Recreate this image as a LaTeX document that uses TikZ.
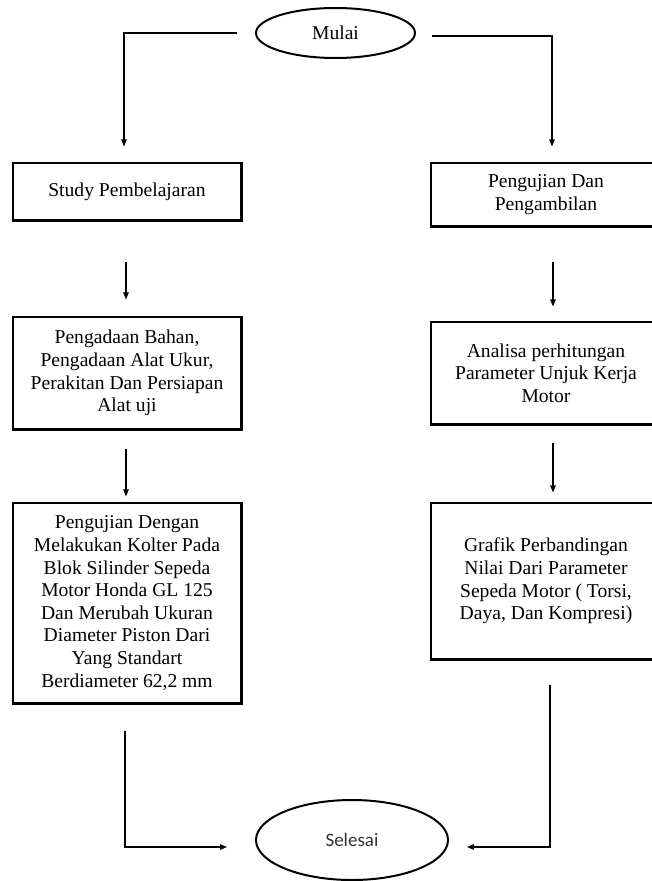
\documentclass[tikz,border=0pt]{standalone}
\usepackage{fontspec}
\setmainfont{Liberation Serif}
\newfontfamily\calib{Carlito}
\usetikzlibrary{shapes.geometric,arrows.meta}
\tikzset{
  boxnode/.style={draw, line width=1.1pt, inner sep=0pt, align=center,
    font=\fontsize{19.6}{22.6}\selectfont},
  ovalnode/.style={draw, ellipse, line width=2pt, inner sep=0pt},
  shadowline/.style={line width=2.6pt},
  conn/.style={line width=1.2pt, -{Triangle[length=7pt,width=5.5pt]}},
}
\begin{document}
\begin{tikzpicture}[x=1pt,y=-1pt]
\useasboundingbox (0,0) rectangle (652,881);
\clip (0,0) rectangle (652,881);
\fill[white] (0,0) rectangle (652,881);

\node[ovalnode, minimum width=159pt, minimum height=50pt,
  font=\fontsize{19.6}{22.6}\selectfont] (m) at (335.5,33) {Mulai};

\node[boxnode, minimum width=228pt, minimum height=57pt] (b1) at (127,191.5) {Study Pembelajaran};
\node[boxnode, minimum width=230pt, minimum height=63pt] (b2) at (546,194.5) {Pengujian Dan\\Pengambilan};
\node[boxnode, minimum width=228pt, minimum height=112pt] (b3) at (127,373) {Pengadaan Bahan,\\Pengadaan Alat Ukur,\\Perakitan Dan Persiapan\\Alat uji};
\node[boxnode, minimum width=230pt, minimum height=102pt] (b4) at (546,373) {Analisa perhitungan\\Parameter Unjuk Kerja\\Motor};
\node[boxnode, minimum width=228pt, minimum height=200pt] (b5) at (127,603) {Pengujian Dengan\\Melakukan Kolter Pada\\Blok Silinder Sepeda\\Motor Honda GL 125\\Dan Merubah Ukuran\\Diameter Piston Dari\\Yang Standart\\Berdiameter 62,2 mm};
\node[boxnode, minimum width=230pt, minimum height=156pt] (b6) at (546,581) {Grafik Perbandingan\\Nilai Dari Parameter\\Sepeda Motor ( Torsi,\\Daya, Dan Kompresi)};

\node[ovalnode, minimum width=192pt, minimum height=80pt,
  font=\calib\fontsize{19}{22}\selectfont, text=black!80] (s) at (352,840) {Selesai};

% thicker bottom / right borders
\foreach \b in {b1,b3,b5}{
  \draw[shadowline] (\b.south west) -- (\b.south east) -- (\b.north east);
}
\foreach \b in {b2,b4,b6}{
  \draw[shadowline] (\b.south west) -- (\b.south east);
}

% connectors
\draw[conn, shorten <=18pt, shorten >=16pt] (m.west) -| ([xshift=-3pt]b1.north);
\draw[conn, shorten <=16pt, shorten >=16pt] ([yshift=-3pt]m.east) -| ([xshift=6pt]b2.north);

\draw[conn, shorten <=41pt, shorten >=17pt] ([xshift=-1pt]b1.south) -- ([xshift=-1pt]b3.north);
\draw[conn, shorten <=35pt, shorten >=15pt] ([xshift=7pt]b2.south) -- ([xshift=7pt]b4.north);
\draw[conn, shorten <=19pt, shorten >=6pt] ([xshift=-1pt]b3.south) -- ([xshift=-1pt]b5.north);
\draw[conn, shorten <=18pt, shorten >=10pt] ([xshift=7pt]b4.south) -- ([xshift=7pt]b6.north);

\draw[conn, shorten <=27pt, shorten >=28pt] ([xshift=-2pt]b5.south) |- ([yshift=-7pt]s.west);
\draw[conn, shorten <=25pt, shorten >=18pt] ([xshift=4pt]b6.south) |- ([yshift=-7pt]s.east);
\end{tikzpicture}
\end{document}
